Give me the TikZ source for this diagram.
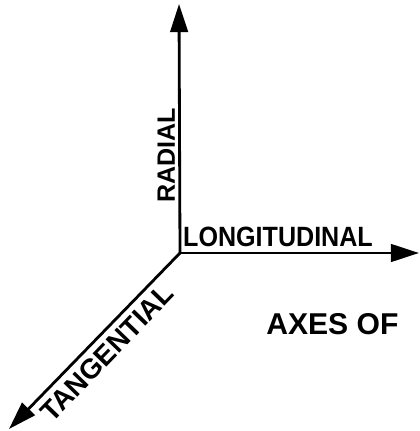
\documentclass[tikz,border=0pt]{standalone}
\usepackage{fontspec}
\setmainfont{Liberation Sans}
\usetikzlibrary{arrows.meta, positioning, calc}

\begin{document}
\begin{tikzpicture}[
  x=0.03cm, y=-0.03cm,
  font=\fontsize{23.8}{28}\selectfont\bfseries,
  axis/.style={-{Triangle[length=24pt, width=15pt]}, line width=2.4pt, line cap=round},
  axlabel/.style={inner sep=0pt}
]
\useasboundingbox (0,0) rectangle (419,431);
% origin and axis ends
\coordinate (o) at (180,253);
\coordinate (radtip) at (179,4);
\coordinate (longtip) at (419,253);
\coordinate (tantip) at (9,429);

\draw[axis] (o) -- (radtip);
\draw[axis] (o) -- (longtip);
\draw[axis] (o) -- (tantip);

% axis names
\node[axlabel, rotate=90, anchor=south west, scale=0.9] (radial) at ([shift={(-5,-50)}]o) {RADIAL};
\node[axlabel, anchor=south west, xscale=0.9] (longit) at ([shift={(3,-6)}]o) {LONGITUDINAL};
\node[axlabel, rotate=46, anchor=north, inner sep=6pt] (tangent) at ($(o)!0.5!(tantip)$) {TANGENTIAL};

\node[axlabel, anchor=south west, scale=1.08] (title) at (266,335) {AXES OF};
\end{tikzpicture}
\end{document}
